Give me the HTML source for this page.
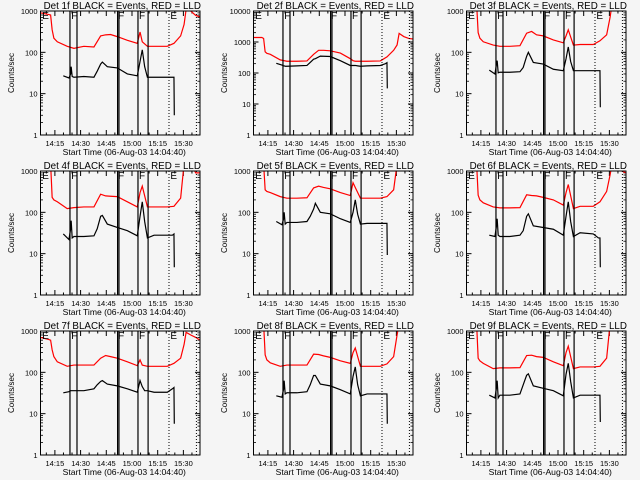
<!DOCTYPE html>
<html><head><meta charset="utf-8"><style>
html,body{margin:0;padding:0;background:#f5f5f5;}
svg{display:block;font-family:"Liberation Sans",sans-serif;}
</style></head><body>
<svg id="chart" width="640" height="480" viewBox="0 0 640 480"></svg>
<script>
// time grids: minutes after 14:00
const redTimes = [6.6,11.5,12.5,13.4,14.4,16.4,22.2,26.1,31.9,37.8,41.7,44.6,47.5,51.4,57.3,63.1,64.7,66.0,69.0,72.9,80.6,84.5,88.4,90.4,91.6,94.3,97.2,99.7];
const blackTimes = [19.9,23.2,24.2,24.5,25.1,26.1,31.9,37.8,39.7,41.7,42.7,45.6,51.4,57.3,63.1,64.7,66.0,67.4,69.0,72.9,80.6,83.6,84.5,84.7];
const detNames = ["1f","2f","3f","4f","5f","6f","7f","8f","9f"];
const yMaxDecades = [3,4,3,3,3,3,3,3,3];
const red1=[900,820,800,350,220,180,140,125,140,135,250,265,270,240,195,165,310,180,140,140,140,165,250,470,1100,1000,780,720];
const red2=[1400,1400,1300,480,430,400,265,240,240,245,400,540,540,520,440,290,250,240,240,240,245,330,540,800,1900,1500,1300,1250];
const red3=[1500,1500,1500,300,220,180,150,140,140,145,290,320,265,250,200,170,250,350,150,155,155,190,265,700,1500,1500,1500,1500];
const red4=[1500,1500,1500,230,200,180,123,130,135,135,275,250,245,240,180,135,300,430,135,135,135,140,220,1500,1500,1500,900,900];
const red5=[1500,1500,1500,350,320,300,240,220,220,225,390,430,400,370,300,255,520,400,220,220,220,240,350,1500,1500,1500,1500,1500];
const red6=[1500,1500,1500,260,200,170,135,128,128,130,265,255,250,230,200,150,300,470,123,140,140,180,320,800,1500,1500,1000,900];
const red7=[700,620,600,350,240,180,140,150,150,150,220,255,240,220,180,145,200,150,140,140,140,165,220,470,930,800,700,600];
const red8=[1500,1500,1500,265,200,170,140,150,150,150,275,270,250,230,190,165,300,390,140,140,140,160,240,800,1500,1500,1500,1500];
const red9=[1500,1500,1500,220,190,165,123,128,128,130,255,260,240,230,180,145,300,430,123,135,135,140,220,1500,1500,1500,1100,1000];
const black1=[27,24,30,45,26,25,26,25,35,52,58,45,42,30,27,60,115,45,25,25,25,25,25,3];
const black2=[205,180,170,170,165,165,170,175,220,280,290,350,340,250,175,175,175,170,165,170,175,200,215,32];
const black3=[37,30,55,63,32,33,33,34,43,80,100,57,52,39,36,70,135,60,36,36,36,36,36,4.7];
const black4=[30,22,40,63,24,26,26,27,40,80,84,52,43,36,27,80,180,60,24,28,28,28,30,4.7];
const black5=[60,50,70,100,52,57,57,60,80,120,165,100,92,70,57,100,200,90,52,54,54,54,54,9.3];
const black6=[28,26,50,70,28,26,26,28,36,80,92,47,43,39,28,80,180,60,26,32,30,24,24,4.7];
const black7=[32,34,36,36,36,36,36,40,50,60,63,52,47,40,33,63,45,36,36,33,33,40,43,5.7];
const black8=[27,25,40,63,30,32,32,34,50,84,84,52,47,38,30,80,135,50,27,30,30,30,30,5.7];
const black9=[28,24,45,63,24,28,28,30,50,85,92,47,41,36,27,90,165,60,24,28,28,28,28,6.3];
const redSeries=[red1,red2,red3,red4,red5,red6,red7,red8,red9];
const blackSeries=[black1,black2,black3,black4,black5,black6,black7,black8,black9];
const solidLineTimes=[23.8,27.9,51.6,52.4,63.5,69.4];
const dottedLineTimes=[81.6,97.6];
const markerTimes=[8.2,25.1,52.4,64.7,83.0];
const markerLabels=["E","F","F","F","E"];
const xTickTimes=[15,30,45,60,75,90];
const xTickLabels=["14:15","14:30","14:45","15:00","15:15","15:30"];

const NS="http://www.w3.org/2000/svg";
const svg=document.getElementById('chart');
const PL=40.5, PR=200, PT=11, PB=135;
const T0=6.6, T1=99.7;
function xs(t){return PL+(t-T0)/(T1-T0)*(PR-PL);}
function mk(tag,attrs,parent){const e=document.createElementNS(NS,tag);for(const k in attrs)e.setAttribute(k,attrs[k]);parent.appendChild(e);return e;}

for(let p=0;p<9;p++){
  const col=p%3,row=Math.floor(p/3);
  const g=mk('g',{transform:`translate(${col*213},${row*160})`},svg);
  
  
  const dec=yMaxDecades[p];
  const ys=v=>PB-Math.log10(v)/dec*(PB-PT);
  const cid='clip'+p;
  const cp=mk('clipPath',{id:cid},g);
  mk('rect',{x:PL,y:PT,width:PR-PL,height:PB-PT},cp);
  const tt=mk('text',{x:(PL+PR)/2+2,y:9,'font-size':'9.8','text-anchor':'middle',fill:'#000'},g);
  tt.textContent='Det '+detNames[p]+' BLACK = Events, RED = LLD';
  
  
  const yl=mk('text',{x:0,y:0,'font-size':'8','text-anchor':'middle',transform:`translate(14,${(PT+PB)/2}) rotate(-90)`},g);
  yl.textContent='Counts/sec';
  
  
  const xl=mk('text',{x:(PL+PR)/2+4,y:155,'font-size':'8.6','text-anchor':'middle'},g);
  xl.textContent='Start Time (06-Aug-03 14:04:40)';
  
  
  for(let d=0;d<=dec;d++){
    const y=ys(Math.pow(10,d));
    mk('line',{x1:PL,x2:PL+5,y1:y,y2:y,stroke:'#000','stroke-width':1},g);
    mk('line',{x1:PR-5,x2:PR,y1:y,y2:y,stroke:'#000','stroke-width':1},g);
    const lb=mk('text',{x:PL-3,y:y+3,'font-size':'7.5','text-anchor':'end'},g);
    lb.textContent=String(Math.pow(10,d));
    
    
    if(d<dec){for(let m=2;m<10;m++){const ym=ys(m*Math.pow(10,d));
      mk('line',{x1:PL,x2:PL+2.5,y1:ym,y2:ym,stroke:'#000','stroke-width':0.8},g);
      mk('line',{x1:PR-2.5,x2:PR,y1:ym,y2:ym,stroke:'#000','stroke-width':0.8},g);}}
  }
  for(let t=10;t<=95;t+=5){const x=xs(t);const maj=(t%15===0);
    mk('line',{x1:x,x2:x,y1:PB,y2:PB-(maj?5:2.5),stroke:'#000','stroke-width':1},g);
    mk('line',{x1:x,x2:x,y1:PT,y2:PT+(maj?5:2.5),stroke:'#000','stroke-width':1},g);}
  xTickTimes.forEach((t,i)=>{const lb=mk('text',{x:xs(t),y:146,'font-size':'7.5','text-anchor':'middle'},g);
    lb.textContent=xTickLabels[i];
    
    });
  const cg=mk('g',{'clip-path':`url(#${cid})`},g);
  const rv=redSeries[p];let d='';
  redTimes.forEach((t,i)=>{const x=xs(t),y=ys(rv[i]);d+=(i?`L${x},${y}`:`M${x},${y}`);});
  const rl=mk('path',{d:d,fill:'none',stroke:'#ff0000','stroke-width':1.2},cg);
  
  
  const bv=blackSeries[p];d='';
  blackTimes.forEach((t,i)=>{const x=xs(t),y=ys(bv[i]);d+=(i?`L${x},${y}`:`M${x},${y}`);});
  const bl=mk('path',{d:d,fill:'none',stroke:'#000','stroke-width':1.2},cg);
  
  
  solidLineTimes.forEach(t=>{const l=mk('line',{x1:xs(t),x2:xs(t),y1:PT,y2:PB,stroke:'#000','stroke-width':1.2},g);
    
    });
  dottedLineTimes.forEach(t=>{const l=mk('line',{x1:xs(t),x2:xs(t),y1:PT,y2:PB,stroke:'#000','stroke-width':1,'stroke-dasharray':'1,2'},g);
    
    });
  markerTimes.forEach((t,i)=>{const m=mk('text',{x:xs(t)-1,y:PT+8,'font-size':'10'},g);
    m.textContent=markerLabels[i];
    
    });
  const bx=mk('rect',{x:PL,y:PT,width:PR-PL,height:PB-PT,fill:'none',stroke:'#000','stroke-width':1},g);
  
  
}
</script>
</body></html>
